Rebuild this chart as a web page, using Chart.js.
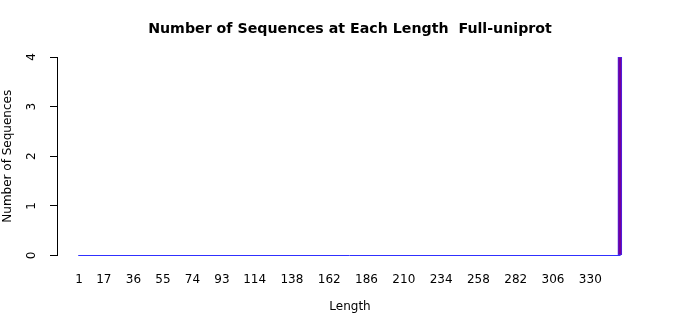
<!DOCTYPE html>
<html>
<head>
<meta charset="utf-8">
<script src="https://cdn.jsdelivr.net/npm/chart.js@4"></script>
<style>
  html, body { margin: 0; padding: 0; background: #fff; }
  #wrap { width: 700px; height: 315px; }
</style>
</head>
<body>
<div id="wrap"><canvas id="myChart" width="700" height="315"></canvas></div>
<script>
// データ
const lengthRange = [1, 349];          // 配列長の範囲（最小, 最大）
const seqLengths = [349];              // 配列が存在する長さ
const seqCounts = [4];                 // その長さの配列数
const xTickLabels = [1, 17, 36, 55, 74, 93, 114, 138, 162, 186, 210, 234, 258, 282, 306, 330];
const yTickLabels = [0, 1, 2, 3, 4];

Chart.defaults.font.family = "'DejaVu Sans', sans-serif";
Chart.defaults.color = "#000";
Chart.defaults.animation = false;

// 棒のデータ
const barData = seqLengths.map((len, i) => ({ x: len, y: seqCounts[i] }));
// 0本の長さはベースラインとして描画
const baseData = [
  { x: lengthRange[0] - 0.5, y: 0 },
  { x: lengthRange[1] + 0.5, y: 0 },
];

const ctx = document.getElementById("myChart").getContext("2d");
const chart = new Chart(ctx, {
  type: "bar",
  data: {
    datasets: [
      {
        type: "line",
        data: baseData,
        borderColor: "#3030ff",
        borderWidth: 1,
        pointRadius: 0,
        clip: false,
        order: 2,
      },
      {
        data: barData,
        backgroundColor: "#74009c",
        borderColor: "#4a22e6",
        borderWidth: 1,
        borderSkipped: false,
        barThickness: 4,
        order: 1,
      },
    ],
  },
  options: {
    responsive: false,
    layout: { padding: 0 },
    plugins: {
      legend: { display: false },
      tooltip: { enabled: false },
      title: {
        display: true,
        text: "Number of Sequences at Each Length  Full-uniprot",
        font: { size: 14.2, weight: "bold" },
        color: "#000",
        padding: { top: 21, bottom: 19 },
      },
    },
    scales: {
      x: {
        type: "linear",
        offset: false,
        min: -13.16,
        max: 363.9,
        grid: { display: false, drawTicks: false },
        border: { display: false },
        afterBuildTicks: (axis) => {
          axis.ticks = xTickLabels.map((v) => ({ value: v }));
        },
        afterFit: (axis) => {
          axis.height = 59.5;
        },
        ticks: {
          autoSkip: false,
          maxRotation: 0,
          padding: 17,
          font: { size: 12 },
          color: "#000",
        },
        title: {
          display: true,
          text: "Length",
          font: { size: 12 },
          color: "#000",
          padding: { top: 14, bottom: 1 },
        },
      },
      y: {
        min: 0,
        max: 4,
        afterBuildTicks: (axis) => {
          axis.ticks = yTickLabels.map((v) => ({ value: v }));
        },
        afterFit: (axis) => {
          axis.width = 57;
        },
        grid: {
          drawOnChartArea: false,
          drawTicks: true,
          tickLength: 7,
          color: "#000",
        },
        border: { display: true, color: "#000" },
        ticks: {
          minRotation: 90,
          maxRotation: 90,
          crossAlign: "center",
          padding: 14,
          font: { size: 12 },
          color: "#000",
        },
        title: {
          display: true,
          text: "Number of Sequences",
          font: { size: 12 },
          color: "#000",
          padding: { top: 1, bottom: 0 },
        },
      },
      // 右側の余白用（表示なし）
      yRight: {
        position: "right",
        grid: { display: false },
        border: { display: false },
        ticks: { display: false },
        afterFit: (axis) => {
          axis.width = 57;
        },
      },
    },
  },
});
</script>
</body>
</html>
